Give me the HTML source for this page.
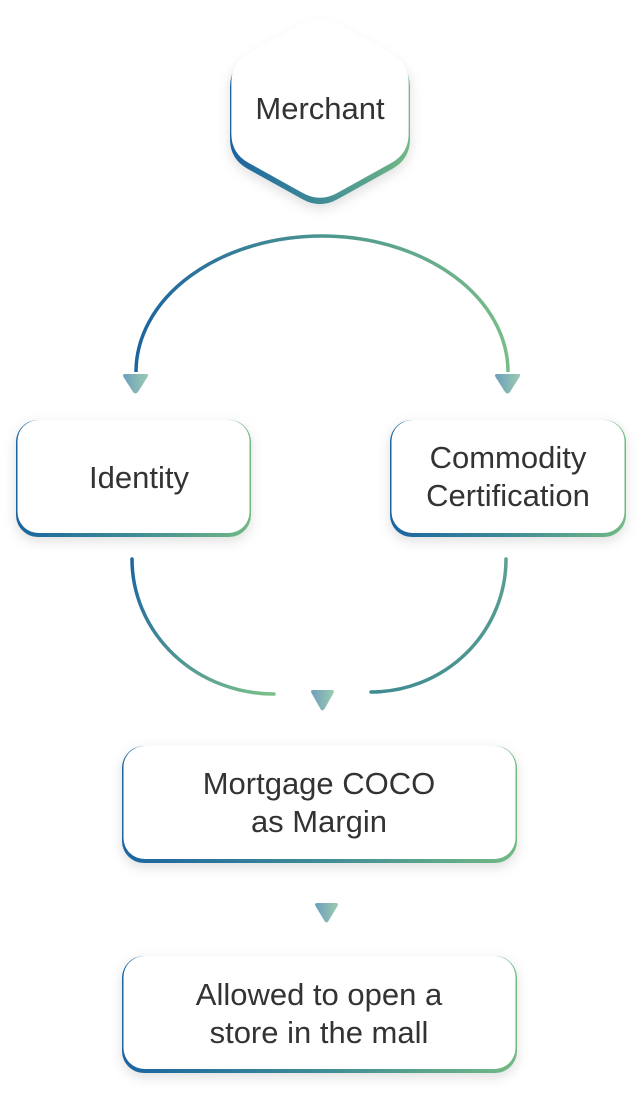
<!DOCTYPE html>
<html><head><meta charset="utf-8"><style>
html,body{margin:0;padding:0;background:#fff;}
svg{display:block;}
text{font-family:"Liberation Sans",Arial,sans-serif;fill:#333;font-size:31px;text-anchor:middle;}
</style></head><body>
<svg width="642" height="1094" viewBox="0 0 642 1094" xmlns="http://www.w3.org/2000/svg">
<defs>
<linearGradient id="g" x1="0" y1="0" x2="1" y2="0">
<stop offset="0" stop-color="#1b64a0"/><stop offset="0.5" stop-color="#3f8b96"/><stop offset="1" stop-color="#72b984"/>
</linearGradient>
<linearGradient id="gl" gradientUnits="userSpaceOnUse" x1="132" y1="558" x2="274" y2="694">
<stop offset="0" stop-color="#1b64a0"/><stop offset="1" stop-color="#7cc08a"/>
</linearGradient>
<linearGradient id="gr" gradientUnits="userSpaceOnUse" x1="506" y1="558" x2="371" y2="692">
<stop offset="0" stop-color="#5a9f92"/><stop offset="1" stop-color="#3f8b92"/>
</linearGradient>
<linearGradient id="gt" gradientUnits="userSpaceOnUse" x1="136" y1="0" x2="508" y2="0">
<stop offset="0" stop-color="#1b64a0"/><stop offset="0.5" stop-color="#4c9590"/><stop offset="1" stop-color="#78bd88"/>
</linearGradient>
<linearGradient id="ga" x1="0" y1="0" x2="1" y2="0">
<stop offset="0" stop-color="#6c9fbd"/><stop offset="1" stop-color="#9ccab0"/>
</linearGradient>
<filter id="sh" x="-20%" y="-20%" width="140%" height="150%">
<feDropShadow dx="0" dy="4" stdDeviation="6" flood-color="#000" flood-opacity="0.13"/>
</filter>
</defs>

<g filter="url(#sh)">
<path transform="translate(0,3)" fill="url(#g)" d="M302.5,23.7 Q320,14 337.5,23.7 L392.5,54.3 Q410,64 410,84 L410,136 Q410,156 392.5,165.7 L337.5,196.3 Q320,206 302.5,196.3 L247.5,165.7 Q230,156 230,136 L230,84 Q230,64 247.5,54.3 Z"/>
</g>
<path transform="translate(320,108) scale(0.985,0.985) translate(-320,-110)" fill="#fff" d="M302.5,23.7 Q320,14 337.5,23.7 L392.5,54.3 Q410,64 410,84 L410,136 Q410,156 392.5,165.7 L337.5,196.3 Q320,206 302.5,196.3 L247.5,165.7 Q230,156 230,136 L230,84 Q230,64 247.5,54.3 Z"/>
<text x="320" y="119">Merchant</text>

<path d="M136,372 A186,136 0 0 1 508,372" fill="none" stroke="url(#gt)" stroke-width="3.5"/>
<path d="M125,374 L147,374 Q149,374 147.5,377 L138,392 Q135.5,395 133,392 L123.5,377 Q122,374 125,374 Z" fill="url(#ga)"/>
<path d="M497,374 L519,374 Q521,374 519.5,377 L510,392 Q507.5,395 505,392 L495.5,377 Q494,374 497,374 Z" fill="url(#ga)"/>

<g filter="url(#sh)">
<rect x="16" y="420" width="235" height="117" rx="22" fill="url(#g)"/>
<rect x="390" y="420" width="236" height="117" rx="22" fill="url(#g)"/>
<rect x="122" y="746" width="395" height="117" rx="22" fill="url(#g)"/>
<rect x="122" y="956" width="395" height="117" rx="22" fill="url(#g)"/>
</g>
<rect x="17.5" y="420" width="232" height="113" rx="21" fill="#fff"/>
<rect x="391.5" y="420" width="233" height="113" rx="21" fill="#fff"/>
<rect x="123.5" y="746" width="392" height="113" rx="21" fill="#fff"/>
<rect x="123.5" y="956" width="392" height="113" rx="21" fill="#fff"/>

<text x="139" y="488">Identity</text>
<text x="508" y="468">Commodity</text>
<text x="508" y="506">Certification</text>
<text x="319" y="794">Mortgage COCO</text>
<text x="319" y="832">as Margin</text>
<text x="319" y="1005">Allowed to open a</text>
<text x="319" y="1043">store in the mall</text>

<path d="M132,559 A142,135 0 0 0 274,694" fill="none" stroke="url(#gl)" stroke-width="3.5" stroke-linecap="round"/>
<path d="M506,559 A135,133 0 0 1 371,692" fill="none" stroke="url(#gr)" stroke-width="3.5" stroke-linecap="round"/>
<path d="M313,690 L332,690 Q335,690 333.5,693 L324.5,709 Q322.5,712 320.5,709 L311.5,693 Q310,690 313,690 Z" fill="url(#ga)"/>
<path d="M317,903 L336,903 Q339,903 337.5,906 L328.5,921 Q326.5,924 324.5,921 L315.5,906 Q314,903 317,903 Z" fill="url(#ga)"/>
</svg>
</body></html>
